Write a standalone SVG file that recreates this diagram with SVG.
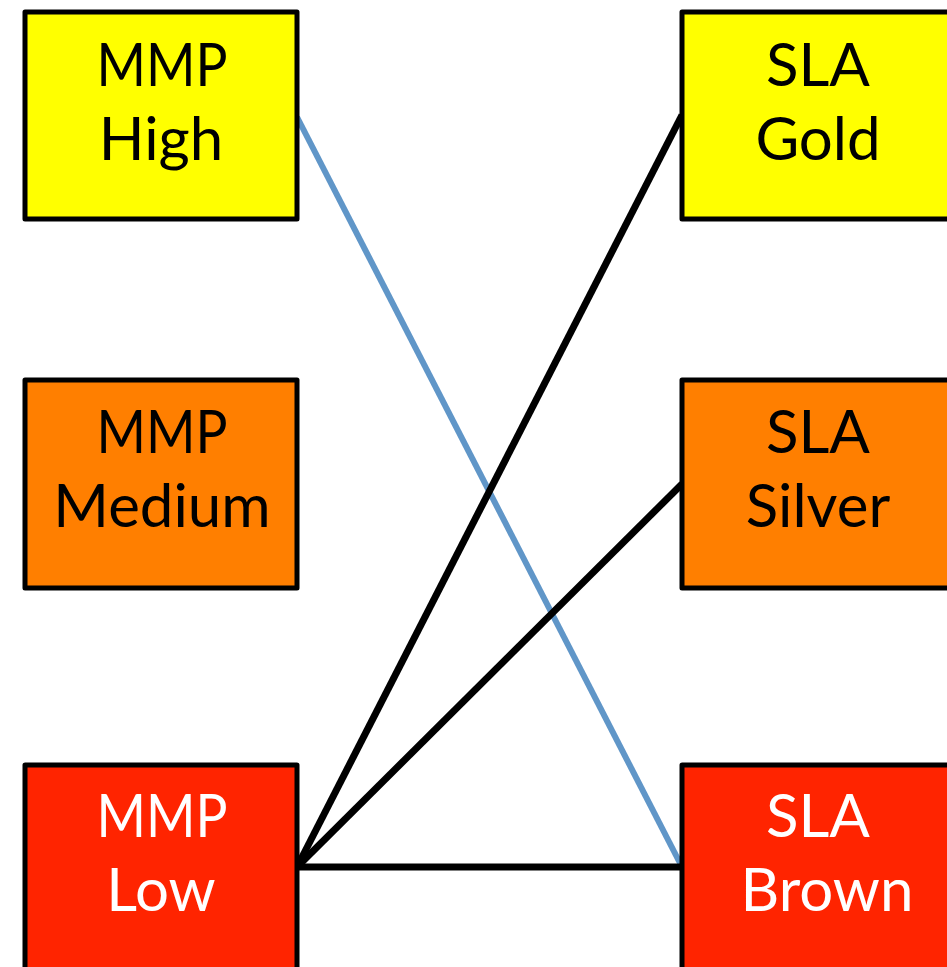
<svg xmlns="http://www.w3.org/2000/svg" width="947" height="967" viewBox="0 0 947 967">
<style>
.box{stroke:#000;stroke-width:5;stroke-linejoin:round}
.y{fill:#FFFF00}.o{fill:#FF7F00}.r{fill:#FF2400}
text{font-family:Lato,"Open Sans",sans-serif;font-size:60px;text-anchor:middle}
.dk{fill:#000}.wt{fill:#fff}
.cn{stroke-width:7;fill:none}
</style>
<rect width="947" height="967" fill="#fff"/>
<g id="connectors">
<line class="cn" x1="297" y1="117" x2="682" y2="867" stroke="#6096C8" style="stroke-width:6"/>
<line class="cn" x1="297" y1="867" x2="682" y2="115" stroke="#000"/>
<line class="cn" x1="297" y1="867" x2="682" y2="484" stroke="#000"/>
<line class="cn" x1="297" y1="867" x2="682" y2="867" stroke="#000"/>
</g>
<g id="mmp-high"><rect class="box y" x="25" y="12" width="272" height="207"/><text class="dk" x="162" y="86" textLength="131" lengthAdjust="spacingAndGlyphs">MMP</text><text class="dk" x="161" y="160">High</text></g>
<g id="mmp-medium"><rect class="box o" x="25" y="380" width="272" height="208"/><text class="dk" x="162" y="453" textLength="131" lengthAdjust="spacingAndGlyphs">MMP</text><text class="dk" x="162" y="527">Medium</text></g>
<g id="mmp-low"><rect class="box r" x="25" y="765" width="272" height="215"/><text class="wt" x="162" y="837" textLength="131" lengthAdjust="spacingAndGlyphs">MMP</text><text class="wt" x="161" y="911">Low</text></g>
<g id="sla-gold"><rect class="box y" x="682" y="12" width="272" height="207"/><text class="dk" x="818" y="86">SLA</text><text class="dk" x="818" y="160">Gold</text></g>
<g id="sla-silver"><rect class="box o" x="682" y="380" width="272" height="208"/><text class="dk" x="818" y="453">SLA</text><text class="dk" x="818" y="527">Silver</text></g>
<g id="sla-brown"><rect class="box r" x="682" y="765" width="272" height="215"/><text class="wt" x="818" y="837">SLA</text><text class="wt" x="827" y="911">Brown</text></g>
</svg>
